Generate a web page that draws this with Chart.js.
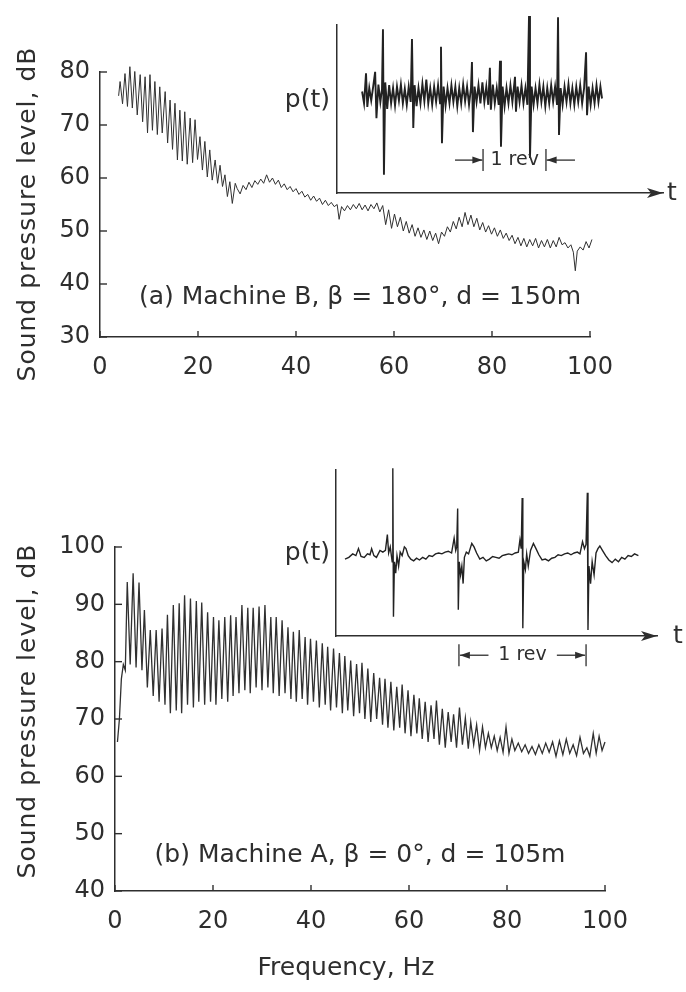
<!DOCTYPE html>
<html>
<head>
<meta charset="utf-8">
<script src="https://cdn.jsdelivr.net/npm/chart.js@4/dist/chart.umd.min.js"></script>
<style>
    body { margin: 0; background: #fff; }
    #page { position: relative; width: 686px; height: 992px; background: #fff; overflow: hidden; }
    #page canvas { position: absolute; }
</style>
</head>
<body>
<div id="page">
    <canvas id="specB" width="686" height="410" style="left:0;top:0"></canvas>
    <canvas id="specA" width="686" height="572" style="left:0;top:420px"></canvas>
    <canvas id="waveB" width="436" height="220" style="left:250px;top:0"></canvas>
    <canvas id="waveA" width="436" height="230" style="left:250px;top:450px"></canvas>
</div>
<script>
// (a) Machine B spectrum, Hz / dB
const freqB = [3.8, 4.1, 4.6, 5.1, 5.6, 6.1, 6.6, 7.1, 7.6, 8.2, 8.7, 9.2, 9.7, 10.2, 10.7, 11.2, 11.7, 12.2, 12.7,
    13.3, 13.8, 14.3, 14.8, 15.3, 15.8, 16.3, 16.8, 17.3, 17.8, 18.4, 18.9, 19.4, 19.9, 20.4, 20.9, 21.4, 21.9,
    22.4, 22.9, 23.5, 24.0, 24.5, 25.0, 25.5, 26.0, 26.5, 27.0, 27.6,
    28.0, 28.6, 29.2, 29.8, 30.4, 31.0, 31.6, 32.2, 32.8, 33.4, 34.0, 34.6, 35.2, 35.8, 36.4, 37.0, 37.6, 38.2,
    38.8, 39.4, 40.0, 40.6, 41.2, 41.8, 42.4, 43.0, 43.6, 44.2, 44.8, 45.4, 46.0, 46.6, 47.2, 47.8, 48.4, 48.8,
    49.3, 49.9, 50.5, 51.1, 51.7, 52.3, 52.9, 53.5, 54.1, 54.7, 55.3, 55.9, 56.5, 57.1, 57.7, 58.3, 58.9, 59.5,
    60.1, 60.7, 61.3, 61.9, 62.5, 63.1, 63.7, 64.3, 64.9, 65.5, 66.1, 66.7, 67.3, 67.9, 68.5, 69.1, 69.7, 70.3,
    70.9, 71.5, 72.1, 72.7, 73.3, 73.9, 74.5, 75.1, 75.7, 76.3, 76.9, 77.5, 78.1, 78.7, 79.3, 79.9, 80.5, 81.1,
    81.7, 82.3, 82.9, 83.5, 84.1, 84.7, 85.3, 85.9, 86.5, 87.1, 87.7, 88.3, 88.9, 89.5, 90.1, 90.7, 91.3, 91.9,
    92.5, 93.1, 93.7, 94.3, 94.9, 95.5, 96.1, 96.6, 97.0, 97.4, 98.0, 98.6, 99.2, 99.8, 100.4, 101.0, 101.5];
const levelB = [75.5, 78.2, 74.0, 79.7, 73.5, 81.0, 73.2, 80.1, 71.9, 79.5, 70.6, 79.1, 68.5, 79.5, 69.0, 78.2, 68.2, 77.2, 68.5,
    76.3, 66.6, 74.7, 65.4, 74.1, 63.4, 72.8, 63.2, 72.5, 62.6, 71.3, 62.9, 71.0, 63.5, 67.8, 61.5, 66.9, 60.2,
    65.3, 59.6, 63.4, 59.0, 62.4, 58.4, 60.6, 56.5, 59.3, 55.2, 59.0,
    58.0, 57.0, 58.6, 57.8, 59.2, 58.2, 59.5, 58.8, 59.8, 59.0, 60.6, 59.2, 60.0, 58.8, 59.6, 58.2, 58.9, 57.8,
    58.4, 57.4, 58.0, 56.9, 57.5, 56.4, 56.9, 55.8, 56.6, 55.6, 56.2, 55.0, 55.8, 54.8, 55.4, 54.6, 55.0, 52.2,
    54.6, 53.8, 54.8, 54.0, 55.0, 54.2, 55.2, 54.0, 54.9, 53.8, 55.0, 54.2, 55.3, 53.6, 54.8, 51.2, 54.0, 50.5,
    53.2, 50.8, 52.6, 50.0, 51.8, 49.6, 51.2, 49.0, 50.6, 48.8, 50.2, 48.4, 50.0, 48.2, 49.6, 47.6, 49.8, 49.0,
    50.8, 49.8, 51.8, 50.4, 52.6, 50.8, 53.5, 51.2, 53.0, 50.8, 52.4, 50.2, 51.6, 49.8, 51.0, 49.4, 50.6, 49.0,
    50.2, 48.6, 49.6, 48.2, 49.2, 47.6, 48.8, 47.2, 48.6, 47.0, 48.4, 47.2, 48.6, 46.8, 48.2, 47.0, 48.4, 46.8,
    48.2, 47.0, 48.8, 47.4, 47.8, 46.8, 47.4, 46.0, 42.5, 46.2, 47.0, 46.4, 48.0, 46.8, 48.4, 47.4, 48.0];

// (b) Machine A spectrum, Hz / dB
const freqA = [0.5, 0.9, 1.3, 1.7, 2.1,
    2.5, 3.1, 3.7, 4.3, 4.9, 5.5, 6.0, 6.6, 7.2, 7.8, 8.4, 9.0, 9.6, 10.2, 10.7, 11.3, 11.9, 12.5, 13.1, 13.6,
    14.2, 14.8, 15.4, 16.0, 16.6, 17.1, 17.7, 18.3, 18.9, 19.5, 20.1, 20.6, 21.2, 21.8, 22.4, 23.0, 23.6, 24.1,
    24.7, 25.3, 25.9, 26.5, 27.1, 27.6, 28.2, 28.8, 29.4, 30.0, 30.6, 31.2, 31.8, 32.3, 32.9, 33.5, 34.1, 34.7,
    35.3, 35.9, 36.4, 37.0, 37.6, 38.2, 38.8, 39.3, 39.9, 40.5, 41.1, 41.7, 42.3, 42.9, 43.4, 44.0, 44.6, 45.2,
    45.8, 46.4, 46.9, 47.5, 48.1, 48.7, 49.3, 49.9, 50.4, 51.0, 51.6, 52.2, 52.8, 53.4, 54.0, 54.6, 55.1, 55.7,
    56.3, 56.9, 57.5, 58.1, 58.6, 59.2, 59.8, 60.4, 61.0, 61.6, 62.1, 62.7, 63.3, 63.9, 64.5, 65.1, 65.6, 66.2,
    66.8, 67.4, 68.0, 68.6, 69.1, 69.7, 70.3, 70.9, 71.5, 72.1, 72.6, 73.2, 73.8, 74.4, 75.0, 75.6,
    76.2, 76.8, 77.4, 78.0, 78.6, 79.2, 79.8, 80.4, 81.0, 81.6, 82.3, 83.0, 83.7, 84.4, 85.1, 85.8, 86.5, 87.2,
    87.9, 88.6, 89.3, 90.0, 90.7, 91.4, 92.1, 92.8, 93.5, 94.2, 94.9, 95.6, 96.3, 96.9, 97.6, 98.2, 98.8, 99.4, 100.0];
const levelA = [66.0, 70.0, 77.0, 79.5, 78.5,
    93.9, 79.5, 95.4, 79.0, 93.8, 78.5, 89.0, 75.5, 85.5, 74.0, 85.5, 73.0, 85.8, 72.5, 88.2, 71.0, 89.9, 71.5, 90.2, 71.0,
    91.6, 72.5, 91.0, 72.0, 90.6, 73.0, 90.3, 72.5, 88.6, 73.0, 87.8, 72.5, 87.2, 73.5, 87.8, 73.0, 88.1, 74.0,
    87.8, 74.5, 89.9, 75.0, 89.4, 74.5, 89.4, 75.5, 89.6, 75.0, 89.9, 75.5, 87.8, 74.5, 87.8, 74.0, 87.2, 74.5,
    86.0, 73.5, 85.2, 73.0, 85.5, 73.5, 84.3, 72.5, 84.0, 73.0, 83.7, 72.0, 83.2, 72.5, 82.6, 71.5, 82.3, 72.0,
    81.5, 71.0, 81.0, 71.5, 80.2, 70.5, 79.6, 71.0, 79.8, 70.0, 78.8, 69.5, 78.0, 70.0, 77.2, 69.0, 77.0, 68.5,
    76.5, 68.0, 75.6, 68.5, 76.0, 67.5, 75.0, 67.0, 74.2, 67.5, 73.6, 66.5, 73.0, 66.0, 72.4, 66.5, 73.2, 65.5,
    71.8, 65.0, 71.2, 66.0, 70.8, 65.0, 72.0, 65.5, 70.2, 64.8, 69.5, 65.5, 69.0, 64.5, 68.6, 65.0,
    67.5, 65.0, 67.0, 64.5, 66.8, 64.2, 68.6, 64.0, 66.5, 64.5, 65.8, 64.3, 65.5, 64.0, 65.2, 63.8, 65.5, 64.0,
    65.8, 64.2, 66.0, 63.5, 66.2, 63.8, 66.5, 64.0, 65.5, 63.6, 66.8, 64.0, 65.0, 63.5, 67.5, 64.0, 67.0, 64.5, 66.0];

// inset pressure traces, time in % of trace width, pressure in arbitrary units
const timeB = [7.7, 8.3, 8.9, 9.3, 9.9, 10.5, 11.1, 11.7, 12.1, 12.7, 13.3, 13.8, 14.1, 14.4, 14.8, 15.4, 16.0, 16.6,
    17.2, 17.8, 18.4, 19.0, 19.6, 20.2, 20.8, 21.4, 22.0, 22.6, 23.0, 23.4, 23.8, 24.4, 25.0, 25.6, 26.2, 26.8,
    27.4, 28.0, 28.6, 29.2, 29.8, 30.4, 31.0, 31.6, 31.9, 32.2, 32.7, 33.3, 33.9, 34.5, 35.1, 35.7, 36.3, 36.9,
    37.5, 38.1, 38.7, 39.3, 39.9, 40.5, 41.1, 41.4, 41.7, 42.2, 42.8, 43.4, 44.0, 44.6, 45.2, 45.8, 46.4, 46.9,
    47.2, 47.8, 48.4, 49.0, 49.6, 50.0, 50.3, 50.8, 51.4, 52.0, 52.6, 53.2, 53.8, 54.6, 54.9, 55.4, 56.0, 56.6,
    57.2, 57.8, 58.4, 58.9, 59.2, 59.7, 60.3, 60.9, 61.5, 62.1, 62.7, 63.3, 63.9, 64.5, 65.1, 65.7, 66.3, 66.9,
    67.5, 67.8, 68.1, 68.6, 69.2, 69.8, 70.4, 71.0, 71.6, 72.2, 72.8, 73.4, 74.0, 74.6, 75.2, 75.8, 76.4, 76.7,
    77.2, 77.8, 78.4, 79.0, 79.6, 80.2, 80.8, 81.3];
const pressB = [0.05, -0.12, 0.31, -0.17, 0.10, -0.08, 0.12, 0.33, -0.33, 0.15, -0.10, 0.08, 0.94, -1.14, 0.18, -0.20, 0.14, -0.12,
    0.10, -0.15, 0.12, -0.08, 0.15, -0.12, 0.09, -0.14, 0.12, -0.10, 0.80, -0.47, 0.14, -0.16, 0.10, -0.12, 0.16, -0.09,
    0.22, -0.12, 0.10, -0.14, 0.12, -0.10, 0.14, -0.12, 0.69, -0.69, 0.12, -0.15, 0.10, -0.12, 0.14, -0.10, 0.12, -0.16,
    0.10, -0.12, 0.15, -0.09, 0.12, -0.14, 0.10, 0.47, -0.53, 0.12, -0.10, 0.14, -0.12, 0.18, -0.10, 0.12, -0.14, 0.39,
    -0.21, 0.15, -0.12, 0.10, -0.14, 0.49, -0.74, 0.12, -0.16, 0.10, -0.12, 0.14, -0.10, 0.26, -0.24, 0.12, -0.10, 0.14,
    -0.12, 0.10, -0.14, 1.13, -0.90, 0.12, -0.14, 0.10, -0.12, 0.15, -0.10, 0.12, -0.16, 0.10, -0.12, 0.14, -0.10, 0.12,
    -0.14, 1.11, -0.57, 0.10, -0.14, 0.12, -0.10, 0.15, -0.12, 0.10, -0.14, 0.12, -0.10, 0.14, -0.12, 0.10, 0.61, -0.29,
    0.12, -0.14, 0.10, -0.12, 0.14, -0.10, 0.12, -0.05];

const timeA = [2.8, 4.0, 5.2, 6.2, 7.0, 7.8, 8.8, 9.8, 10.6, 11.1, 11.8, 12.6, 13.7, 14.6, 15.4, 16.0, 16.4, 16.9,
    17.5, 17.7, 17.9, 18.2, 18.6, 19.0, 19.5, 20.0, 20.6, 21.3, 21.8, 22.5, 23.3, 24.2, 25.1, 26.0, 27.0, 28.0,
    29.0, 30.0, 31.0, 32.0, 33.0, 34.0, 35.0, 36.0, 36.8, 37.3, 37.6, 37.9, 38.1, 38.4, 38.8, 39.2, 39.6, 40.0,
    40.6, 41.3, 42.3, 43.0, 43.8, 44.8, 45.8, 46.8, 47.8, 48.8, 49.8, 50.8, 51.8, 52.8, 53.8, 54.8, 55.8, 56.8,
    57.3, 57.7, 58.0, 58.2, 58.5, 59.0, 59.4, 59.9, 60.6, 61.5, 62.3, 63.2, 64.2, 65.2, 66.2, 67.2, 68.2, 69.2,
    70.2, 71.2, 72.2, 73.2, 74.2, 75.2, 76.0, 76.8, 77.4, 77.9, 78.3, 78.5, 78.8, 79.3, 79.8, 80.4, 81.0, 81.6,
    82.2, 83.0, 84.0, 85.0, 86.0, 87.0, 88.0, 89.0, 90.0, 91.0, 92.0, 93.0, 94.2];
const pressA = [-0.02, 0.00, 0.04, 0.02, 0.10, 0.01, 0.00, 0.04, 0.03, 0.10, 0.02, 0.00, 0.08, 0.06, 0.08, 0.26, 0.05, 0.12,
    -0.05, 1.02, -0.68, -0.05, -0.18, 0.02, -0.10, 0.06, 0.02, 0.12, 0.10, 0.02, -0.02, -0.04, -0.01, -0.03, 0.00, -0.02,
    0.02, 0.01, 0.04, 0.05, 0.04, 0.06, 0.07, 0.05, 0.22, 0.08, 0.12, 0.56, -0.60, -0.05, -0.20, -0.10, -0.30, 0.00,
    0.06, 0.04, 0.16, 0.12, 0.05, -0.02, 0.00, -0.04, -0.02, 0.01, 0.00, -0.01, 0.02, 0.03, 0.04, 0.03, 0.05, 0.06,
    0.20, 0.10, 0.68, -0.81, -0.05, -0.14, 0.04, -0.10, 0.08, 0.16, 0.10, 0.03, -0.03, -0.02, -0.04, -0.01, 0.00, 0.03,
    0.02, 0.04, 0.05, 0.03, 0.05, 0.06, 0.04, 0.18, 0.10, 0.15, 0.74, -0.83, -0.10, -0.30, -0.05, -0.20, 0.05, 0.10,
    0.13, 0.08, 0.02, -0.03, -0.06, -0.02, -0.05, 0.00, -0.02, 0.02, 0.01, 0.04, 0.02];

const freqTicks = [0, 20, 40, 60, 80, 100];

document.addEventListener('DOMContentLoaded', function() {
    const ink = '#2e2e2e';
    const fontFamily = '"DejaVu Sans", "Liberation Sans", sans-serif';
    Chart.defaults.font.family = fontFamily;
    Chart.defaults.color = ink;

    const pairs = (xs, ys) => xs.map((v, i) => ({ x: v, y: ys[i] }));

    // axis ticks point inwards, labels and notes drawn here too
    const decor = {
        id: 'decor',
        afterDraw(chart, args, opts) {
            const { ctx, chartArea, scales } = chart;
            ctx.save();
            ctx.strokeStyle = ink;
            ctx.fillStyle = ink;
            ctx.lineWidth = 1.4;
            if (opts.ticks) {
                scales.x.ticks.forEach(t => {
                    const px = scales.x.getPixelForValue(t.value);
                    ctx.beginPath();
                    ctx.moveTo(px, chartArea.bottom);
                    ctx.lineTo(px, chartArea.bottom - 6);
                    ctx.stroke();
                });
                scales.y.ticks.forEach(t => {
                    const py = scales.y.getPixelForValue(t.value);
                    ctx.beginPath();
                    ctx.moveTo(chartArea.left, py);
                    ctx.lineTo(chartArea.left + 7, py);
                    ctx.stroke();
                });
            }
            (opts.texts || []).forEach(t => {
                ctx.save();
                ctx.font = (t.size || 24) + 'px ' + fontFamily;
                ctx.textAlign = t.align || 'center';
                ctx.textBaseline = 'middle';
                ctx.translate(t.x, t.y);
                if (t.rotate) ctx.rotate(-Math.PI / 2);
                if (t.spacing) ctx.letterSpacing = t.spacing;
                ctx.fillText(t.text, 0, 0);
                ctx.restore();
            });
            if (opts.arrow) {
                // arrow head on the time axis
                const xr = chartArea.right, yb = chartArea.bottom;
                ctx.beginPath();
                ctx.moveTo(xr - 16, yb - 5);
                ctx.lineTo(xr, yb);
                ctx.lineTo(xr - 16, yb + 5);
                ctx.lineTo(xr - 12, yb);
                ctx.closePath();
                ctx.fill();
            }
            if (opts.rev) {
                const r = opts.rev;
                const x1 = scales.x.getPixelForValue(r.from);
                const x2 = scales.x.getPixelForValue(r.to);
                const yy = scales.y.getPixelForValue(r.at);
                ctx.lineWidth = 1.3;
                [x1, x2].forEach(px => {
                    ctx.beginPath();
                    ctx.moveTo(px, yy - 11);
                    ctx.lineTo(px, yy + 11);
                    ctx.stroke();
                });
                const arrow = (xa, xb) => {
                    const dir = Math.sign(xb - xa);
                    ctx.beginPath();
                    ctx.moveTo(xa, yy);
                    ctx.lineTo(xb, yy);
                    ctx.stroke();
                    ctx.beginPath();
                    ctx.moveTo(xb, yy);
                    ctx.lineTo(xb - dir * 10, yy - 3.5);
                    ctx.lineTo(xb - dir * 10, yy + 3.5);
                    ctx.closePath();
                    ctx.fill();
                };
                r.arrows.forEach(a => arrow(scales.x.getPixelForValue(a[0]), scales.x.getPixelForValue(a[1])));
                ctx.font = '19px ' + fontFamily;
                ctx.textAlign = 'center';
                ctx.textBaseline = 'middle';
                ctx.fillText('1 rev', scales.x.getPixelForValue(r.label), yy);
            }
            ctx.restore();
        }
    };

    function spectrumChart(canvasId, freq, level, yMin, yMax, layout, texts) {
        return new Chart(document.getElementById(canvasId), {
            type: 'line',
            data: {
                datasets: [{
                    data: pairs(freq, level),
                    borderColor: '#303030',
                    borderWidth: layout.lineWidth,
                    pointRadius: 0,
                    tension: 0,
                    clip: false
                }]
            },
            options: {
                responsive: false,
                animation: false,
                events: [],
                layout: { padding: layout.padding },
                plugins: {
                    legend: { display: false },
                    tooltip: { enabled: false },
                    decor: { ticks: true, texts: texts }
                },
                scales: {
                    x: {
                        type: 'linear',
                        min: 0,
                        max: 100,
                        afterBuildTicks: s => { s.ticks = freqTicks.map(v => ({ value: v })); },
                        grid: { display: false, drawTicks: false },
                        border: { color: ink, width: 1.5 },
                        ticks: { font: { size: 24 }, padding: layout.xPad, maxRotation: 0 },
                        afterFit: s => { s.height = layout.xHeight; }
                    },
                    y: {
                        min: yMin,
                        max: yMax,
                        grid: { display: false, drawTicks: false },
                        border: { color: ink, width: 1.5 },
                        ticks: { font: { size: 24 }, stepSize: 10, padding: 10 },
                        afterFit: s => { s.width = layout.yWidth; }
                    }
                }
            },
            plugins: [decor]
        });
    }

    function waveChart(canvasId, time, press, yMin, yMax, padding, lineWidth, texts, rev) {
        return new Chart(document.getElementById(canvasId), {
            type: 'line',
            data: {
                datasets: [{
                    data: pairs(time, press),
                    borderColor: '#222',
                    borderWidth: lineWidth,
                    pointRadius: 0,
                    tension: 0,
                    clip: false
                }]
            },
            options: {
                responsive: false,
                animation: false,
                events: [],
                layout: { padding: padding },
                plugins: {
                    legend: { display: false },
                    tooltip: { enabled: false },
                    decor: { ticks: false, arrow: true, texts: texts, rev: rev }
                },
                scales: {
                    x: {
                        type: 'linear',
                        min: 0,
                        max: 100,
                        grid: { display: false, drawTicks: false },
                        border: { color: ink, width: 1.5 },
                        ticks: { display: false },
                        afterFit: s => { s.height = 0; }
                    },
                    y: {
                        min: yMin,
                        max: yMax,
                        grid: { display: false, drawTicks: false },
                        border: { color: ink, width: 1.5 },
                        ticks: { display: false },
                        afterFit: s => { s.width = 0; }
                    }
                }
            },
            plugins: [decor]
        });
    }

    // (a) Machine B
    spectrumChart('specB', freqB, levelB, 30, 80,
        { padding: { left: 0, right: 96, top: 72, bottom: 0 }, yWidth: 100, xHeight: 73, xPad: 16, lineWidth: 1.0 },
        [
            { text: 'Sound pressure level, dB', x: 28, y: 214, rotate: true, size: 25, spacing: '1px' },
            { text: '(a) Machine B, \u03B2 = 180\u00B0, d = 150m', x: 360, y: 297, size: 25 }
        ]);

    // (b) Machine A
    spectrumChart('specA', freqA, levelA, 40, 100,
        { padding: { left: 0, right: 81, top: 127, bottom: 0 }, yWidth: 115, xHeight: 101, xPad: 16, lineWidth: 1.3 },
        [
            { text: 'Sound pressure level, dB', x: 28, y: 291, rotate: true, size: 25, spacing: '1px' },
            { text: '(b) Machine A, \u03B2 = 0\u00B0, d = 105m', x: 360, y: 435, size: 25 },
            { text: 'Frequency, Hz', x: 346, y: 548, size: 25 }
        ]);

    // inset traces
    waveChart('waveB', timeB, pressB, -1.4, 1,
        { left: 87, right: 23, top: 25, bottom: 27 }, 1.9,
        [
            { text: 'p(t)', x: 80, y: 100, align: 'right', size: 25 },
            { text: 't', x: 422, y: 193, align: 'center', size: 25 }
        ],
        { from: 44.8, to: 64.1, at: -0.93, label: 54.5, arrows: [[36.2, 44.6], [73.0, 64.3]] });

    waveChart('waveA', timeA, pressA, -0.9, 1,
        { left: 86, right: 29, top: 20, bottom: 44 }, 1.4,
        [
            { text: 'p(t)', x: 80, y: 103, align: 'right', size: 25 },
            { text: 't', x: 428, y: 186, align: 'center', size: 25 }
        ],
        { from: 38.3, to: 77.9, at: -1.12, label: 58.1, arrows: [[47.5, 38.6], [68.8, 77.6]] });
});
</script>
</body>
</html>
